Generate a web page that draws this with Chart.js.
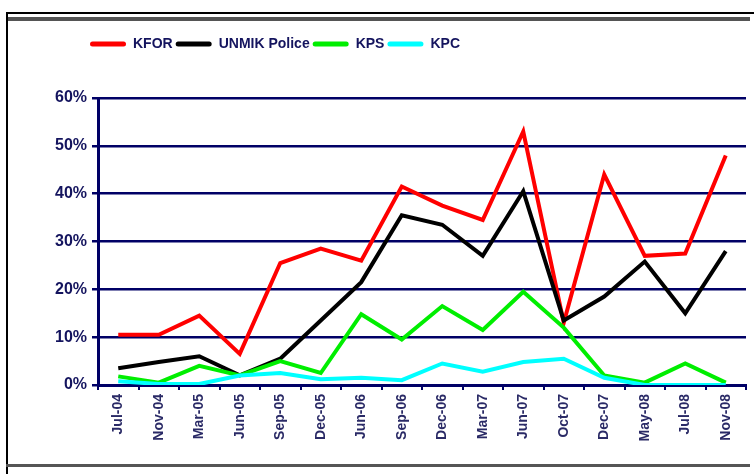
<!DOCTYPE html>
<html>
<head>
<meta charset="utf-8">
<script src="https://cdn.jsdelivr.net/npm/chart.js@4/dist/chart.umd.min.js"></script>
<style>
    body { margin: 0; background: #fff; }
    #wrap { position: relative; width: 754px; height: 474px; overflow: hidden; }
    #chart { position: absolute; left: 0; top: 0; }
    .rule { position: absolute; }
</style>
</head>
<body>
<div id="wrap">
    <canvas id="chart" width="754" height="474"></canvas>
    <div class="rule" style="left:6px; top:12px; width:748px; height:2px; background:#000;"></div>
    <div class="rule" style="left:6px; top:17px; width:744px; height:4px; background:#555;"></div>
    <div class="rule" style="left:6px; top:12px; width:2px; height:462px; background:#000;"></div>
    <div class="rule" style="left:6px; top:464px; width:744px; height:3px; background:#555;"></div>
</div>
<script>
const categories = ['Jul-04', 'Nov-04', 'Mar-05', 'Jun-05', 'Sep-05', 'Dec-05', 'Jun-06', 'Sep-06',
    'Dec-06', 'Mar-07', 'Jun-07', 'Oct-07', 'Dec-07', 'May-08', 'Jul-08', 'Nov-08'];
const kfor = [10.5, 10.5, 14.5, 6.5, 25.5, 28.5, 26, 41.5, 37.5, 34.5, 53, 13, 44, 27, 27.5, 48];
const unmikPolice = [3.5, 4.8, 6, 2, 5.5, 13.5, 21.5, 35.5, 33.5, 27, 40.5, 13.5, 18.5, 25.8, 15, 28];
const kps = [1.8, 0.5, 4, 2, 5, 2.5, 14.8, 9.5, 16.5, 11.5, 19.5, 12, 2, 0.5, 4.5, 0.5];
const kpc = [0.8, 0.2, 0.2, 2, 2.5, 1.2, 1.5, 1, 4.5, 2.8, 4.8, 5.5, 1.5, 0, 0, 0];
const seriesNames = ['KFOR', 'UNMIK Police', 'KPS', 'KPC'];
const seriesColors = ['#ff0000', '#000000', '#00ee00', '#00ffff'];

const navy = '#000066';
const labelColor = '#14145e';

// legend sits left of centre and the plot starts lower than chart.js would put it
const legendBand = {
    id: 'legendBand',
    beforeInit(chart) {
        const legend = chart.legend;
        const fit = legend.fit;
        const draw = legend.draw;
        legend.fit = function () {
            fit.call(this);
            this.height = 64;
        };
        legend.draw = function () {
            this.left = 87;
            draw.call(this);
        };
    }
};

const seriesValues = [kfor, unmikPolice, kps, kpc];
const datasets = seriesNames.map((name, i) => ({
    label: name,
    data: seriesValues[i],
    borderColor: seriesColors[i],
    backgroundColor: seriesColors[i],
    borderWidth: 4,
    pointRadius: 0,
    tension: 0,
    order: seriesNames.length - i
}));

new Chart(document.getElementById('chart'), {
    type: 'line',
    data: { labels: categories, datasets: datasets },
    plugins: [legendBand],
    options: {
        responsive: false,
        animation: false,
        layout: { padding: { top: 34, left: 40, right: 8, bottom: 0 } },
        plugins: {
            tooltip: { enabled: false },
            legend: {
                position: 'top',
                align: 'start',
                sort: (a, b) => a.datasetIndex - b.datasetIndex,
                labels: {
                    boxWidth: 36,
                    boxHeight: 5,
                    padding: 3,
                    color: labelColor,
                    font: { family: "'Liberation Sans'", size: 14, weight: 'bold' },
                    generateLabels(chart) {
                        return chart.data.datasets.map((ds, i) => ({
                            text: ds.label,
                            fillStyle: ds.borderColor,
                            strokeStyle: ds.borderColor,
                            lineWidth: 0,
                            borderRadius: 2.5,
                            fontColor: labelColor,
                            hidden: false,
                            datasetIndex: i
                        }));
                    }
                }
            }
        },
        scales: {
            x: {
                offset: true,
                afterFit(scale) { scale.height = 89; },
                grid: {
                    offset: true,
                    drawOnChartArea: false,
                    color: navy,
                    lineWidth: 2,
                    tickLength: 5
                },
                border: { color: navy, width: 3 },
                ticks: {
                    minRotation: 90,
                    maxRotation: 90,
                    autoSkip: false,
                    padding: 4,
                    color: '#2a2a66',
                    font: { family: "'Liberation Sans'", size: 14, weight: 'bold' }
                }
            },
            y: {
                min: 0,
                max: 60,
                afterFit(scale) { scale.width = 58; },
                grid: {
                    color: navy,
                    lineWidth: 2.5,
                    tickLength: 6
                },
                border: { color: navy, width: 3 },
                ticks: {
                    stepSize: 10,
                    padding: 5,
                    color: labelColor,
                    font: { family: "'Liberation Sans'", size: 16, weight: 'bold' },
                    callback: v => v + '%'
                }
            }
        }
    }
});
</script>
</body>
</html>
